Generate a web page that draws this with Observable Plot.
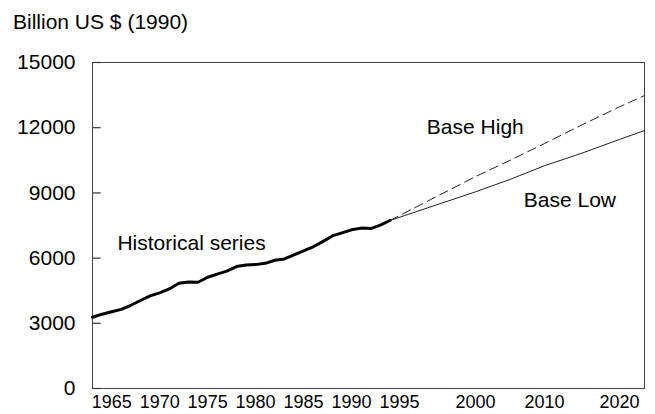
<!DOCTYPE html>
<html>
<head>
<meta charset="utf-8">
<script src="https://cdn.jsdelivr.net/npm/d3@7"></script>
<script src="https://cdn.jsdelivr.net/npm/@observablehq/plot@0.6"></script>
<style>
  html, body { margin: 0; padding: 0; background: #fff; }
  body { width: 655px; height: 414px; overflow: hidden; font-family: "Liberation Sans", Arial, Helvetica, sans-serif; }
  #title { position: relative; height: 40px; }
  #title span { position: absolute; left: 13px; top: 11px; font-size: 21px; line-height: 21px; color: #000; white-space: nowrap; }
  svg { display: block; }
</style>
</head>
<body>
<div id="title"><span>Billion US $ (1990)</span></div>
<div id="chart"></div>
<script>
const histYears = [1963,1964,1965,1966,1967,1968,1969,1970,1971,1972,1973,1974,1975,1976,1977,1978,1979,1980,1981,1982,1983,1984,1985,1986,1987,1988,1989,1990,1991,1992,1993,1994];
const histValues = [3280,3420,3530,3640,3830,4050,4260,4400,4580,4840,4900,4890,5120,5260,5400,5610,5680,5700,5760,5900,5960,6150,6330,6520,6760,7020,7160,7300,7380,7360,7520,7730];

const projYears = [1994, 2000, 2005, 2010, 2015, 2020, 2023];
const highValues = [7730, 9750, 10500, 11270, 12130, 12960, 13480];
const lowValues  = [7730, 9050, 9620, 10250, 10830, 11460, 11870];

const xTicks = [1965, 1970, 1975, 1980, 1985, 1990, 1995, 2000, 2010, 2020];
const yTicks = [0, 3000, 6000, 9000, 12000, 15000];

const labelText = ["Historical series", "Base High", "Base Low"];
const labelYear = [1965.6, 1996.8, 2007];
const labelValue = [6350, 11720, 8340];

const hist = histYears.map((year, i) => ({year, value: histValues[i]}));
const high = projYears.map((year, i) => ({year, value: highValues[i]}));
const low = projYears.map((year, i) => ({year, value: lowValues[i]}));
const labels = labelText.map((text, i) => ({text, year: labelYear[i], value: labelValue[i]}));
const tickRows = yTicks.map(v => ({value: v, from: 1963, to: 1963.85}));

const chart = Plot.plot({
  width: 655,
  height: 374,
  marginLeft: 92,
  marginRight: 11,
  marginTop: 22,
  marginBottom: 26,
  style: {fontFamily: '"Liberation Sans", Arial, Helvetica, sans-serif', fontSize: "21px", color: "#000", background: "#fff"},
  x: {type: "linear", domain: [1963, 1995, 2000, 2010, 2020, 2023], range: [92, 399, 475, 544, 619, 644]},
  y: {domain: [0, 15000]},
  marks: [
    Plot.frame({stroke: "#444", strokeWidth: 1}),
    Plot.link(tickRows, {x1: "from", x2: "to", y1: "value", y2: "value", stroke: "#333", strokeWidth: 1.2}),
    Plot.axisY({ticks: yTicks, tickSize: 0, tickPadding: 17, tickFormat: d => String(d), fontSize: 21, label: null}),
    Plot.axisX({ticks: xTicks, tickSize: 0, tickPadding: 7, tickFormat: d => String(d), fontSize: 18, label: null}),
    Plot.line(low, {x: "year", y: "value", stroke: "#222", strokeWidth: 1}),
    Plot.line(high, {x: "year", y: "value", stroke: "#222", strokeWidth: 1, strokeDasharray: "9,5"}),
    Plot.line(hist, {x: "year", y: "value", stroke: "#000", strokeWidth: 3, strokeLinejoin: "round", strokeLinecap: "round"}),
    Plot.text(labels, {x: "year", y: "value", text: "text", textAnchor: "start", lineAnchor: "bottom", fontSize: 21, fill: "#000"})
  ]
});
document.getElementById("chart").appendChild(chart);
</script>
</body>
</html>
